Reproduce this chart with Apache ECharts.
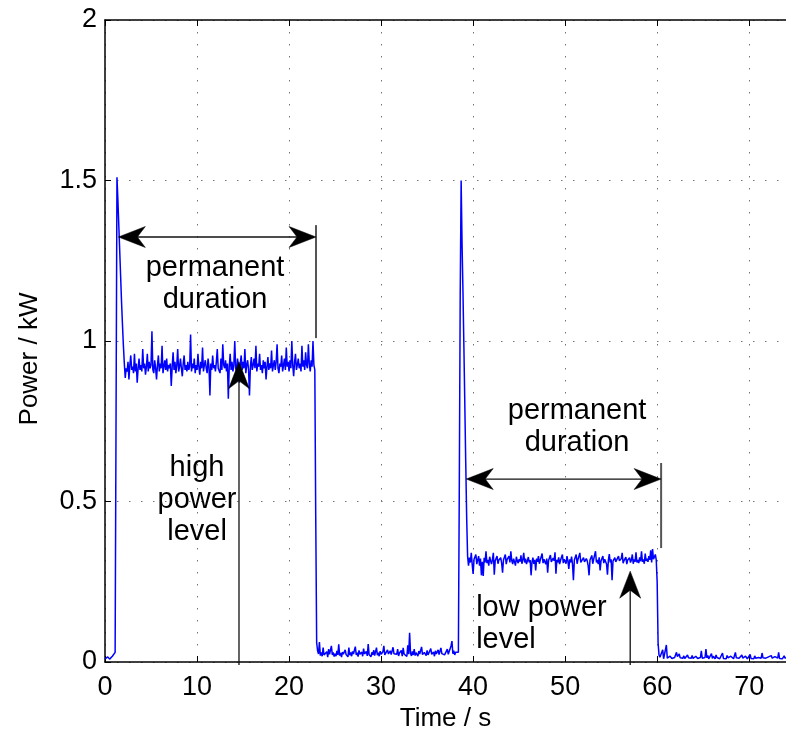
<!DOCTYPE html>
<html>
<head>
<meta charset="utf-8">
<script src="https://cdn.jsdelivr.net/npm/echarts@6/dist/echarts.min.js"></script>
<style>
html,body{margin:0;padding:0;background:#fff;}
#chart{width:786px;height:738px;}
</style>
</head>
<body>
<div id="chart"></div>
<script>
// ---- data (kW), sampled every 0.1 s from t = 0 s ----
const sampleStep = 0.1;
const powerKW = [
0.010,0.014,0.008,0.016,0.011,0.009,0.015,0.010,0.018,0.012,
0.013,0.030,0.760,1.510,1.440,1.360,1.280,1.200,1.120,1.050,
0.985,0.930,0.885,0.915,0.905,0.935,0.880,0.925,0.955,0.910,
0.920,0.900,0.960,0.905,0.930,0.870,0.915,0.945,0.910,0.925,
0.905,0.975,0.915,0.930,0.895,0.920,0.960,0.905,0.935,0.915,
0.925,1.030,0.910,0.900,0.940,0.915,0.880,0.925,0.955,0.905,
0.930,0.915,0.985,0.900,0.920,0.940,0.910,0.945,0.905,0.925,
0.915,0.930,0.860,0.920,0.965,0.910,0.935,0.900,0.925,0.975,
0.905,0.920,0.945,0.915,0.890,0.930,0.955,0.910,0.925,0.905,
0.935,0.910,0.920,1.020,0.905,0.930,0.915,0.945,0.900,0.925,
0.910,0.960,0.920,0.895,0.935,0.915,0.980,0.905,0.925,0.940,
0.915,0.900,0.945,0.920,0.830,0.930,0.910,0.955,0.915,0.925,
0.905,0.935,0.975,0.915,0.920,0.900,0.945,0.910,0.990,0.925,
0.915,0.940,0.905,0.930,0.820,0.920,0.960,0.910,0.935,0.905,
0.925,1.000,0.915,0.905,0.945,0.920,0.870,0.930,0.955,0.910,
0.935,0.915,0.975,0.900,0.925,0.940,0.910,0.830,0.920,0.950,
0.910,0.925,0.945,0.915,0.985,0.905,0.930,0.920,0.960,0.910,
0.925,0.900,0.940,0.915,0.935,0.880,0.920,0.950,0.910,0.930,
0.915,0.970,0.905,0.925,0.940,0.910,0.935,0.990,0.915,0.900,
0.930,0.920,0.955,0.905,0.925,0.945,0.910,0.980,0.920,0.935,
0.905,0.940,0.915,1.000,0.925,0.890,0.935,0.960,0.910,0.925,
0.945,0.915,0.930,0.905,0.985,0.920,0.940,0.910,0.965,0.925,
0.915,0.990,0.930,0.905,0.940,0.920,1.000,0.925,0.910,0.450,
0.060,0.035,0.025,0.062,0.020,0.030,0.018,0.045,0.022,0.028,
0.020,0.032,0.015,0.040,0.024,0.019,0.050,0.022,0.030,0.017,
0.026,0.018,0.035,0.022,0.055,0.020,0.028,0.015,0.031,0.024,
0.019,0.038,0.023,0.027,0.016,0.045,0.021,0.030,0.018,0.033,
0.025,0.020,0.048,0.022,0.029,0.017,0.036,0.024,0.020,0.031,
0.018,0.042,0.025,0.021,0.033,0.019,0.056,0.023,0.027,0.016,
0.030,0.022,0.037,0.020,0.026,0.045,0.021,0.029,0.018,0.034,
0.024,0.019,0.032,0.050,0.022,0.027,0.017,0.038,0.025,0.021,
0.035,0.023,0.018,0.046,0.026,0.020,0.031,0.024,0.040,0.019,
0.028,0.022,0.036,0.018,0.044,0.025,0.021,0.030,0.017,0.052,
0.024,0.091,0.027,0.019,0.033,0.022,0.040,0.020,0.029,0.024,
0.018,0.034,0.025,0.021,0.047,0.023,0.017,0.030,0.026,0.020,
0.036,0.022,0.028,0.019,0.042,0.024,0.020,0.031,0.018,0.035,
0.025,0.021,0.038,0.023,0.017,0.044,0.026,0.020,0.032,0.022,
0.028,0.019,0.040,0.024,0.030,0.021,0.050,0.065,0.026,0.035,
0.022,0.030,0.028,0.032,0.030,0.550,1.150,1.500,1.300,1.150,
0.980,0.800,0.620,0.450,0.330,0.300,0.325,0.310,0.340,0.305,
0.274,0.320,0.315,0.335,0.305,0.318,0.330,0.300,0.322,0.270,
0.312,0.268,0.325,0.310,0.345,0.308,0.318,0.300,0.328,0.315,
0.305,0.320,0.340,0.272,0.315,0.310,0.330,0.306,0.318,0.312,
0.325,0.308,0.278,0.318,0.312,0.335,0.305,0.320,0.314,0.330,
0.310,0.345,0.316,0.305,0.322,0.312,0.300,0.328,0.315,0.308,
0.320,0.313,0.332,0.306,0.318,0.340,0.310,0.322,0.305,0.315,
0.327,0.310,0.318,0.270,0.312,0.325,0.306,0.318,0.285,0.322,
0.312,0.330,0.306,0.318,0.314,0.338,0.308,0.320,0.312,0.305,
0.322,0.278,0.316,0.310,0.333,0.312,0.306,0.324,0.315,0.342,
0.275,0.318,0.310,0.326,0.305,0.317,0.312,0.335,0.308,0.320,
0.313,0.306,0.330,0.315,0.290,0.320,0.310,0.328,0.305,0.255,
0.318,0.312,0.335,0.306,0.320,0.314,0.340,0.310,0.316,0.305,
0.325,0.312,0.308,0.322,0.315,0.300,0.270,0.318,0.312,0.332,
0.306,0.320,0.314,0.345,0.310,0.318,0.305,0.326,0.285,0.315,
0.312,0.330,0.308,0.320,0.315,0.305,0.272,0.318,0.336,0.310,
0.320,0.255,0.314,0.308,0.325,0.312,0.318,0.306,0.330,0.315,
0.310,0.322,0.340,0.308,0.316,0.312,0.327,0.305,0.318,0.314,
0.325,0.310,0.318,0.335,0.306,0.320,0.312,0.342,0.310,0.318,
0.308,0.326,0.314,0.345,0.312,0.320,0.306,0.338,0.315,0.322,
0.312,0.330,0.318,0.348,0.310,0.352,0.320,0.315,0.335,0.318,
0.250,0.060,0.022,0.015,0.012,0.018,0.038,0.010,0.014,0.012,
0.053,0.012,0.015,0.010,0.018,0.013,0.011,0.016,0.009,0.014,
0.012,0.030,0.017,0.011,0.025,0.013,0.010,0.015,0.012,0.019,
0.011,0.014,0.010,0.022,0.013,0.009,0.016,0.012,0.020,0.011,
0.015,0.010,0.018,0.013,0.011,0.016,0.012,0.014,0.035,0.012,
0.017,0.011,0.014,0.040,0.013,0.020,0.010,0.015,0.012,0.026,
0.011,0.018,0.013,0.010,0.022,0.014,0.012,0.017,0.010,0.015,
0.013,0.028,0.011,0.016,0.012,0.010,0.020,0.013,0.015,0.011,
0.018,0.012,0.014,0.010,0.016,0.030,0.013,0.011,0.017,0.012,
0.010,0.015,0.022,0.012,0.014,0.011,0.018,0.013,0.010,0.016,
0.012,0.024,0.011,0.015,0.013,0.010,0.019,0.012,0.016,0.011,
0.014,0.010,0.017,0.012,0.028,0.013,0.011,0.015,0.012,0.018,
0.011,0.016,0.013,0.010,0.020,0.012,0.014,0.011,0.017,0.013,
0.015,0.012,0.030,0.011,0.014,0.016,0.010,0.013,0.019,0.012,
0.014
];

// axes
const xMin = 0, xMax = 74, xStep = 10;
const yMin = 0, yMax = 2, yStep = 0.5;
const xTitle = 'Time / s';
const yTitle = 'Power / kW';

// annotations (data coordinates): [x1, y1, x2, y2, headAtStart, headAtEnd]
const durationArrows = [
  [1.45, 1.324, 22.93, 1.324, 1, 1],
  [39.25, 0.570, 60.43, 0.570, 1, 1]
];
const levelArrows = [
  [14.56, -0.009, 14.56, 0.935, 0, 1],
  [57.07, -0.009, 57.07, 0.283, 0, 1]
];
const durationEnds = [
  [22.93, 1.009, 22.93, 1.361, 0, 0],
  [60.43, 0.355, 60.43, 0.620, 0, 0]
];
// texts: [x, y] plus text and alignment
const labelPos = [[11.96, 1.178], [51.3, 0.732], [10.0, 0.505], [40.33, 0.117]];
const labelText = ['permanent\nduration', 'permanent\nduration', 'high\npower\nlevel', 'low power\nlevel'];
const labelAlign = ['center', 'center', 'center', 'left'];

const FONT = '"Liberation Sans", Arial, Helvetica, sans-serif';

function arrowRender(lineColor, lineWidth) {
  return function (params, api) {
    const p1 = api.coord([api.value(0), api.value(1)]);
    const p2 = api.coord([api.value(2), api.value(3)]);
    const hs = api.value(4), he = api.value(5);
    const dx = p2[0] - p1[0], dy = p2[1] - p1[1];
    const L = Math.hypot(dx, dy) || 1;
    const ux = dx / L, uy = dy / L, nx = -uy, ny = ux;
    const headLen = 27, headW = 10.5, notch = 8;
    const children = [];
    function head(tip, dx_, dy_) {
      const bx = tip[0] - dx_ * headLen, by = tip[1] - dy_ * headLen;
      const mx = tip[0] - dx_ * (headLen - notch), my = tip[1] - dy_ * (headLen - notch);
      children.push({
        type: 'polygon',
        shape: { points: [tip, [bx + nx * headW, by + ny * headW], [mx, my], [bx - nx * headW, by - ny * headW]] },
        style: { fill: '#000', stroke: '#000', lineWidth: 0.5 }
      });
    }
    const a = hs ? [p1[0] + ux * 10, p1[1] + uy * 10] : p1;
    const b = he ? [p2[0] - ux * 10, p2[1] - uy * 10] : p2;
    children.unshift({
      type: 'line',
      shape: { x1: a[0], y1: a[1], x2: b[0], y2: b[1] },
      style: { stroke: lineColor, lineWidth: lineWidth }
    });
    if (hs) head(p1, -ux, -uy);
    if (he) head(p2, ux, uy);
    return { type: 'group', children: children };
  };
}

const chart = echarts.init(document.getElementById('chart'), null, { renderer: 'canvas' });

const axisCommon = {
  axisLine: { show: true, lineStyle: { color: '#000', width: 1.5 } },
  axisTick: { show: true, inside: true, length: 6, lineStyle: { color: '#000', width: 1 } }
};
const dotted = { show: true, lineStyle: { color: '#777', width: 1, type: [1.5, 10.5] } };

chart.setOption({
  animation: false,
  backgroundColor: '#fff',
  grid: { left: 105, right: 0, top: 20, bottom: 76, containLabel: false },
  xAxis: [
    Object.assign({
      type: 'value', min: xMin, max: xMax, interval: xStep, position: 'bottom',
      name: xTitle, nameLocation: 'middle', nameGap: 43,
      nameTextStyle: { fontFamily: FONT, fontSize: 26, color: '#000' },
      axisLabel: { color: '#000', fontFamily: FONT, fontSize: 27, margin: 12, showMaxLabel: false },
      splitLine: dotted
    }, axisCommon),
    Object.assign({
      type: 'value', min: xMin, max: xMax, interval: xStep, position: 'top',
      axisLabel: { show: false }, splitLine: { show: false }
    }, axisCommon)
  ],
  yAxis: [
    Object.assign({
      type: 'value', min: yMin, max: yMax, interval: yStep, position: 'left',
      name: yTitle, nameLocation: 'middle', nameGap: 62,
      nameTextStyle: { fontFamily: FONT, fontSize: 26, color: '#000', padding: [0, 36, 0, 0] },
      axisLabel: { color: '#000', fontFamily: FONT, fontSize: 27, margin: 8 },
      splitLine: dotted
    }, axisCommon)
  ],
  series: [
    {
      type: 'line',
      data: powerKW.map((v, i) => [+(i * sampleStep).toFixed(1), v]),
      showSymbol: false,
      symbol: 'none',
      lineStyle: { color: '#0000ff', width: 1.5 },
      z: 3
    },
    {
      type: 'custom', data: durationEnds, renderItem: arrowRender('#555', 2), z: 4, silent: true
    },
    {
      type: 'custom', data: durationArrows, renderItem: arrowRender('#111', 1.3), z: 5, silent: true
    },
    {
      type: 'custom', data: levelArrows, renderItem: arrowRender('#111', 1.3), z: 5, silent: true
    },
    {
      type: 'custom', data: labelPos, z: 6, silent: true,
      renderItem: function (params, api) {
        const p = api.coord([api.value(0), api.value(1)]);
        const i = params.dataIndex;
        return {
          type: 'text', x: p[0], y: p[1],
          style: {
            text: labelText[i], fill: '#000', font: '29px ' + FONT,
            align: labelAlign[i], verticalAlign: 'middle', lineHeight: 32
          }
        };
      }
    }
  ]
});
</script>
</body>
</html>
